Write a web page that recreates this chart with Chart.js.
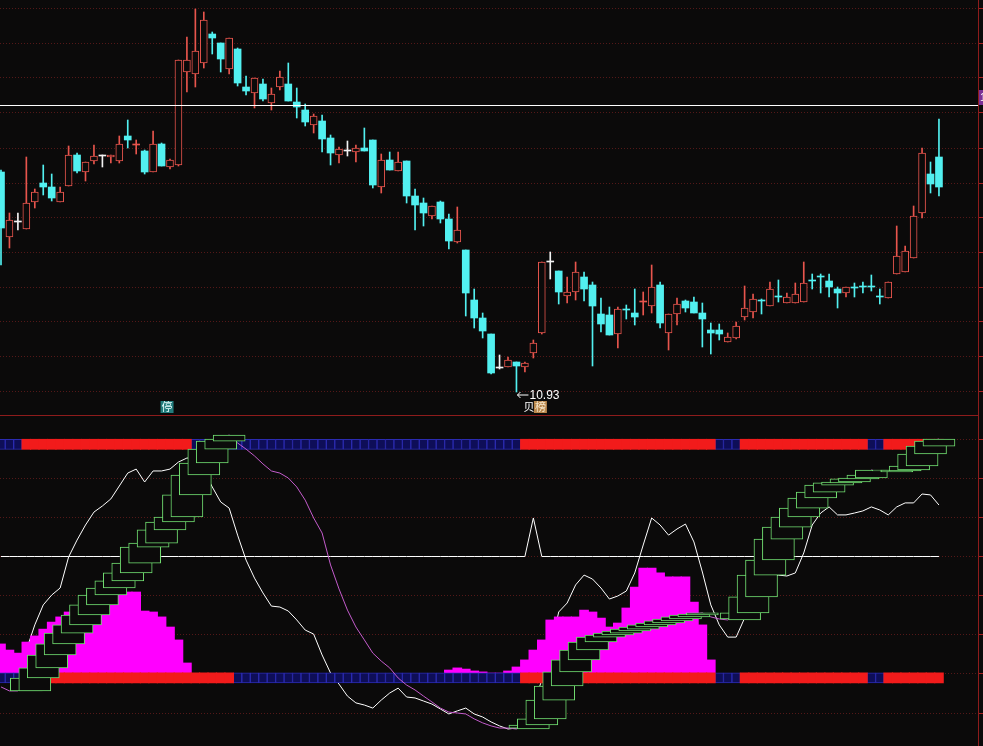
<!DOCTYPE html>
<html>
<head>
<meta charset="utf-8">
<script src="https://cdn.jsdelivr.net/npm/chart.js@4.4.1/dist/chart.umd.min.js"></script>
<style>
    html, body { margin: 0; padding: 0; background: #0b0a0a; }
    #wrap { position: relative; width: 983px; height: 746px; overflow: hidden; background: #0b0a0a; }
    #priceChart { position: absolute; left: 0; top: 0; }
    #indChart { position: absolute; left: 0; top: 414px; }
</style>
</head>
<body>
<div id="wrap">
    <canvas id="priceChart" width="983" height="414"></canvas>
    <canvas id="indChart" width="983" height="332"></canvas>
</div>
<script>
// ===============================
// DATA - daily candles
// ===============================
const candleOpen = [
    13.13, 12.48, 12.63, 12.56, 12.83, 13.02, 12.98, 12.83, 12.99, 13.30,
    13.13, 13.24, 13.29, 13.28, 13.24, 13.49, 13.40, 13.34, 13.13, 13.41,
    13.18, 13.20, 14.13, 14.11, 14.22, 14.51, 14.42, 14.16, 14.36, 13.98,
    13.92, 14.01, 13.82, 13.98, 14.01, 13.83, 13.75, 13.60, 13.64, 13.47,
    13.30, 13.34, 13.33, 13.37, 13.45, 12.98, 13.25, 13.14, 13.24, 12.89,
    12.82, 12.69, 12.83, 12.66, 12.43, 12.35, 11.85, 11.67, 11.51, 11.17,
    11.18, 11.23, 11.18, 11.32, 11.52, 12.23, 12.14, 11.89, 11.93, 12.08,
    12.00, 11.71, 11.70, 11.51, 11.76, 11.72, 11.83, 11.79, 12.00, 11.52,
    11.71, 11.84, 11.83, 11.72, 11.55, 11.55, 11.43, 11.47, 11.68, 11.73,
    11.85, 11.79, 11.89, 11.82, 11.82, 11.83, 12.05, 12.09, 12.04, 11.96,
    11.92, 11.98, 11.99, 11.99, 11.89, 11.87, 12.11, 12.13, 12.27, 12.72,
    13.11, 13.28
];
const candleHigh = [
    13.15, 12.72, 12.72, 13.28, 12.96, 13.20, 13.11, 12.98, 13.39, 13.32,
    13.23, 13.40, 13.30, 13.30, 13.49, 13.65, 13.45, 13.35, 13.54, 13.42,
    13.26, 14.25, 14.48, 14.76, 14.73, 14.53, 14.42, 14.47, 14.37, 14.09,
    14.07, 14.06, 13.97, 14.14, 14.22, 13.97, 13.81, 13.71, 13.70, 13.50,
    13.38, 13.44, 13.40, 13.57, 13.45, 13.31, 13.33, 13.33, 13.24, 12.96,
    12.87, 12.79, 12.84, 12.71, 12.78, 12.35, 11.96, 11.72, 11.51, 11.30,
    11.28, 11.23, 11.23, 11.45, 12.23, 12.33, 12.14, 12.08, 12.23, 12.13,
    12.03, 11.87, 11.78, 11.78, 11.80, 11.96, 11.93, 12.20, 12.03, 11.71,
    11.87, 11.85, 11.88, 11.82, 11.62, 11.61, 11.52, 11.63, 11.99, 11.91,
    11.86, 12.03, 12.05, 11.92, 12.02, 12.23, 12.11, 12.11, 12.11, 11.98,
    11.98, 12.02, 12.03, 12.10, 11.96, 12.03, 12.59, 12.39, 12.79, 13.37,
    13.23, 13.66
];
const candleLow = [
    12.20, 12.37, 12.55, 12.56, 12.77, 12.90, 12.84, 12.83, 12.99, 13.12,
    13.04, 13.21, 13.18, 13.22, 13.22, 13.37, 13.31, 13.11, 13.13, 13.19,
    13.16, 13.19, 13.93, 13.98, 14.17, 14.31, 14.13, 14.11, 13.99, 13.90,
    13.77, 13.84, 13.75, 13.95, 13.84, 13.67, 13.59, 13.52, 13.33, 13.20,
    13.22, 13.29, 13.23, 13.34, 12.97, 12.92, 13.15, 13.14, 12.82, 12.55,
    12.59, 12.66, 12.62, 12.36, 12.42, 11.69, 11.57, 11.47, 11.11, 11.16,
    11.18, 10.93, 11.13, 11.27, 11.51, 12.06, 11.81, 11.82, 11.85, 11.84,
    11.19, 11.53, 11.50, 11.37, 11.66, 11.60, 11.70, 11.72, 11.57, 11.35,
    11.60, 11.73, 11.72, 11.38, 11.31, 11.45, 11.43, 11.46, 11.65, 11.67,
    11.71, 11.79, 11.83, 11.82, 11.82, 11.83, 11.96, 11.92, 11.88, 11.77,
    11.88, 11.88, 11.92, 11.94, 11.81, 11.87, 12.11, 12.13, 12.27, 12.67,
    12.92, 12.89
];
const candleClose = [
    12.57, 12.65, 12.63, 12.82, 12.93, 12.98, 12.87, 12.93, 13.30, 13.14,
    13.23, 13.29, 13.29, 13.30, 13.41, 13.45, 13.41, 13.13, 13.41, 13.19,
    13.25, 14.25, 14.25, 14.34, 14.65, 14.47, 14.26, 14.47, 14.02, 13.94,
    14.07, 13.86, 13.91, 14.08, 13.84, 13.78, 13.63, 13.69, 13.46, 13.32,
    13.36, 13.34, 13.37, 13.34, 13.00, 13.25, 13.15, 13.23, 12.89, 12.80,
    12.72, 12.79, 12.66, 12.44, 12.55, 11.92, 11.67, 11.54, 11.12, 11.17,
    11.25, 11.19, 11.22, 11.42, 12.23, 12.23, 11.93, 11.93, 12.13, 11.96,
    11.79, 11.61, 11.50, 11.76, 11.75, 11.68, 11.84, 11.98, 11.62, 11.71,
    11.81, 11.77, 11.72, 11.66, 11.52, 11.51, 11.48, 11.59, 11.77, 11.86,
    11.84, 11.96, 11.88, 11.88, 11.91, 12.02, 12.04, 12.08, 11.98, 11.92,
    11.98, 11.97, 11.98, 11.98, 11.88, 12.03, 12.29, 12.34, 12.69, 13.32,
    13.01, 12.98
];

const priceGrid = [14.76, 14.41, 14.07, 13.72, 13.37, 13.02, 12.68, 12.33, 11.98, 11.63, 11.29, 10.94];
const refLevel = 13.80;
const haltDay = 19;
const listDay = 62;

// ===============================
// DATA - indicator pane
// ===============================
const oscWhite = [
    -0.4, 2.6, 6.0, 10.2, 20.9, 29.4, 33.6, 36.6, 49.8, 57.0,
    63.4, 68.9, 71.5, 74.5, 80.0, 85.5, 87.2, 81.7, 86.4, 86.4,
    87.2, 90.2, 91.9, 91.9, 86.8, 79.6, 73.2, 70.6, 59.1, 48.5,
    40.8, 34.5, 28.9, 28.5, 26.8, 23.0, 18.7, 17.0, 8.1, 0.4,
    -4.3, -9.4, -12.3, -13.2, -14.5, -11.1, -8.1, -6.0, -9.8, -10.2,
    -11.5, -12.8, -14.9, -17.0, -15.7, -14.5, -17.0, -18.3, -20.4, -22.1,
    -23.4, -23.0, -20.4, -13.2, -2.6, 10.2, 26.4, 30.2, 37.9, 42.1,
    40.4, 36.6, 31.9, 33.2, 35.3, 43.0, 54.9, 66.4, 63.4, 59.1,
    61.7, 63.8, 56.2, 43.4, 29.4, 20.9, 15.7, 15.7, 23.8, 32.3,
    37.9, 40.8, 42.1, 41.7, 43.0, 51.5, 63.4, 68.5, 71.1, 67.7,
    67.7, 68.5, 69.4, 71.1, 69.8, 67.7, 71.1, 72.8, 72.8, 76.6,
    76.2, 71.9
];
const oscLevel = [
    50, 50, 50, 50, 50, 50, 50, 50, 50, 50,
    50, 50, 50, 50, 50, 50, 50, 50, 50, 50,
    50, 50, 50, 50, 50, 50, 50, 50, 50, 50,
    50, 50, 50, 50, 50, 50, 50, 50, 50, 50,
    50, 50, 50, 50, 50, 50, 50, 50, 50, 50,
    50, 50, 50, 50, 50, 50, 50, 50, 50, 50,
    50, 50, 50, 66.4, 50, 50, 50, 50, 50, 50,
    50, 50, 50, 50, 50, 50, 50, 50, 50, 50,
    50, 50, 50, 50, 50, 50, 50, 50, 50, 50,
    50, 50, 50, 50, 50, 50, 50, 50, 50, 50,
    50, 50, 50, 50, 50, 50, 50, 50, 50, 50,
    50, 50
];
const oscPurple = [
    -5.5, -7.2, -7.2, -1.7, 2.6, 8.1, 12.8, 17.4, 20.9, 25.1,
    29.4, 33.6, 36.6, 39.6, 43.0, 47.2, 54.0, 55.7, 61.3, 64.7,
    66.8, 76.2, 84.7, 89.8, 95.7, 99.1, 100.0, 101.7, 98.3, 95.7,
    92.8, 89.4, 86.4, 85.5, 83.4, 79.6, 74.0, 66.4, 60.0, 46.4,
    36.2, 27.2, 20.0, 14.5, 8.9, 5.5, 2.6, -1.7, -4.7, -6.8,
    -9.4, -11.9, -14.5, -16.2, -16.6, -17.0, -19.1, -20.8, -22.1, -23.0,
    -23.0, -23.4, -21.7, -19.1, -11.1, -5.1, 0.9, 6.0, 10.2, 13.6,
    15.7, 16.6, 17.4, 18.3, 19.1, 20.0, 20.9, 21.7, 22.6, 23.4,
    24.3, 25.1, 25.5, 26.0, 24.3, 23.4, 23.0, 26.0, 32.8, 42.1,
    48.5, 57.4, 62.5, 66.8, 70.6, 74.9, 77.4, 80.4, 81.3, 81.7,
    83.0, 83.4, 84.7, 86.8, 86.0, 86.4, 86.8, 88.5, 93.6, 97.0,
    99.1, 100.0
];
const oscBars = [
    12.8, 10.2, 8.9, 13.6, 16.2, 19.1, 22.1, 24.3, 26.4, 28.5,
    29.8, 31.1, 31.9, 33.2, 34.0, 34.9, 34.9, 26.8, 26.4, 24.3,
    20.0, 14.5, 4.7, 0, 0, 0, 0, 0, 0, 0,
    0, 0, 0, 0, 0, 0, 0, 0, 0, 0,
    0, 0, 0, 0, 0, 0, 0, 0, 0, 0,
    0, 0, 0, 1.7, 2.6, 2.1, 1.3, 0.9, 0.4, 0.4,
    1.3, 3.0, 6.0, 10.2, 14.5, 23.0, 24.3, 24.3, 24.3, 27.2,
    26.4, 23.8, 20.0, 21.7, 28.1, 37.0, 45.1, 45.1, 43.0, 41.3,
    41.3, 41.3, 30.6, 20.9, 6.0, 0, 0, 0, 0, 0,
    0, 0, 0, 0, 0, 0, 0, 0, 0, 0,
    0, 0, 0, 0, 0, 0, 0, 0, 0, 0,
    0, 0
];
const stateTop = [
    0, 0, 0, 1, 1, 1, 1, 1, 1, 1,
    1, 1, 1, 1, 1, 1, 1, 1, 1, 1,
    1, 1, 1, 0, 0, 0, 0, 0, 0, 0,
    0, 0, 0, 0, 0, 0, 0, 0, 0, 0,
    0, 0, 0, 0, 0, 0, 0, 0, 0, 0,
    0, 0, 0, 0, 0, 0, 0, 0, 0, 0,
    0, 0, 1, 1, 1, 1, 1, 1, 1, 1,
    1, 1, 1, 1, 1, 1, 1, 1, 1, 1,
    1, 1, 1, 1, 1, 0, 0, 0, 1, 1,
    1, 1, 1, 1, 1, 1, 1, 1, 1, 1,
    1, 1, 1, 0, 0, 1, 1, 1, 1, 1,
    1, 1
];
const stateBottom = [
    0, 0, 0, 0, 0, 0, 1, 1, 1, 1,
    1, 1, 1, 1, 1, 1, 1, 1, 1, 1,
    1, 1, 1, 1, 1, 1, 1, 1, 0, 0,
    0, 0, 0, 0, 0, 0, 0, 0, 0, 0,
    0, 0, 0, 0, 0, 0, 0, 0, 0, 0,
    0, 0, 0, 0, 0, 0, 0, 0, 0, 0,
    0, 0, 1, 1, 1, 1, 1, 1, 1, 1,
    1, 1, 1, 1, 1, 1, 1, 1, 1, 1,
    1, 1, 1, 1, 1, 0, 0, 0, 1, 1,
    1, 1, 1, 1, 1, 1, 1, 1, 1, 1,
    1, 1, 1, 0, 0, 1, 1, 1, 1, 1,
    1, 1
];
const oscGrid = [-16.67, 0, 16.67, 33.33, 50, 66.67, 83.33, 100];

// ===============================
// STYLE
// ===============================
const BG = "#0b0a0a";
const UP_COLOR = "#e8554d";
const DOWN_COLOR = "#52f0f0";
const FLAT_COLOR = "#f2f2f2";
const AXIS_RED = "#8e1c1c";
const GRID_RED = "#541818";
const STRIP_RED = "#f21b1b";
const STRIP_BLUE = "#0e0e58";
const STRIP_BLUE_EDGE = "#2b2bb0";
const BOX_GREEN = "#72e072";
const AREA_PINK = "#ff00ff";
const LINE_PURPLE = "#c45ccc";

const X_MIN = -0.118;
const X_MAX = 115.62;
const PRICE_MIN = 10.71;
const PRICE_MAX = 14.85;
const OSC_MIN = -30.64;
const OSC_MAX = 110.64;

const days = candleOpen.map((_, i) => i);

// ===============================
// HELPERS
// ===============================
function candleColor(i) {
    if (candleClose[i] > candleOpen[i]) return UP_COLOR;
    if (candleClose[i] < candleOpen[i]) return DOWN_COLOR;
    return FLAT_COLOR;
}

function isHollow(i) {
    return candleClose[i] - candleOpen[i] > 0.015;
}

function xScaleOptions() {
    return { type: "linear", min: X_MIN, max: X_MAX, offset: false, display: false };
}

function yScaleOptions(min, max, gridValues) {
    return {
        position: "right",
        min: min,
        max: max,
        afterBuildTicks: (scale) => { scale.ticks = gridValues.map(v => ({ value: v })); },
        ticks: { display: false },
        grid: { color: GRID_RED, lineWidth: 1, drawTicks: true, tickLength: 5, tickColor: "#a82020", tickBorderDash: [] },
        border: { display: true, color: AXIS_RED, width: 1, dash: [1, 2] }
    };
}

const baseOptions = {
    responsive: false,
    animation: false,
    events: [],
    layout: { padding: 0 },
    plugins: { legend: { display: false }, tooltip: { enabled: false } }
};

// ===============================
// PRICE PANE MARKS
// ===============================
const priceMarks = {
    id: "priceMarks",
    afterDatasetsDraw(chart) {
        const { ctx, chartArea, scales } = chart;
        const x = scales.x, y = scales.y;
        ctx.save();

        // reference level
        const ry = Math.round(y.getPixelForValue(refLevel)) + 0.5;
        ctx.strokeStyle = "#ffffff";
        ctx.lineWidth = 1;
        ctx.beginPath();
        ctx.moveTo(0, ry);
        ctx.lineTo(chartArea.right, ry);
        ctx.stroke();

        ctx.fillStyle = "#7b2f95";
        ctx.fillRect(chartArea.right + 1, ry - 15.5, 40, 15);
        ctx.fillStyle = "#ffffff";
        ctx.font = "11px 'Liberation Sans', Arial, sans-serif";
        ctx.textBaseline = "middle";
        ctx.textAlign = "left";
        ctx.fillText(refLevel.toFixed(2), chartArea.right + 2, ry - 8);

        // lowest low
        let lowIdx = 0;
        candleLow.forEach((v, i) => { if (v < candleLow[lowIdx]) lowIdx = i; });
        const lx = x.getPixelForValue(lowIdx);
        const ly = y.getPixelForValue(candleLow[lowIdx]) + 3;
        ctx.strokeStyle = "#ffffff";
        ctx.beginPath();
        ctx.moveTo(lx + 1, ly);
        ctx.lineTo(lx + 12, ly);
        ctx.moveTo(lx + 1, ly);
        ctx.lineTo(lx + 4, ly - 3);
        ctx.moveTo(lx + 1, ly);
        ctx.lineTo(lx + 4, ly + 3);
        ctx.stroke();
        ctx.fillStyle = "#ffffff";
        ctx.font = "12px 'Liberation Sans', Arial, sans-serif";
        ctx.fillText(candleLow[lowIdx].toFixed(2), lx + 13, ly + 1);

        // event tags at the bottom of the pane
        const tagTop = chartArea.bottom - 13;
        ctx.font = "11px 'Noto Sans CJK SC', sans-serif";
        ctx.textAlign = "center";

        const hx = x.getPixelForValue(haltDay);
        ctx.fillStyle = "#227c7c";
        ctx.fillRect(hx - 1, tagTop, 13, 12);
        ctx.fillStyle = "#e8ffff";
        ctx.fillText("停", hx + 5.5, tagTop + 6);

        const bx = x.getPixelForValue(listDay);
        ctx.fillStyle = "#ffffff";
        ctx.fillText("贝", bx + 4, tagTop + 6);
        ctx.fillStyle = "#b9874c";
        ctx.fillRect(bx + 9, tagTop, 13, 12);
        ctx.fillStyle = "#f6e6cc";
        ctx.fillText("榜", bx + 15.5, tagTop + 6);

        ctx.restore();
    }
};

// ===============================
// PRICE CHART
// ===============================
new Chart(document.getElementById("priceChart"), {
    type: "bar",
    data: {
        datasets: [
            {
                label: "body",
                data: days.map(i => ({ x: i, y: [candleOpen[i], candleClose[i]] })),
                backgroundColor: days.map(i => isHollow(i) ? BG : candleColor(i)),
                borderColor: days.map(candleColor),
                borderWidth: days.map(i => isHollow(i) ? 1 : 0),
                borderSkipped: false,
                barThickness: 7,
                minBarLength: 1,
                grouped: false,
                order: 0
            },
            {
                label: "wick",
                data: days.map(i => ({ x: i, y: [candleLow[i], candleHigh[i]] })),
                backgroundColor: days.map(candleColor),
                borderWidth: 0,
                barThickness: 1,
                grouped: false,
                order: 1
            }
        ]
    },
    options: {
        ...baseOptions,
        scales: {
            x: xScaleOptions(),
            y: yScaleOptions(PRICE_MIN, PRICE_MAX, priceGrid)
        }
    },
    plugins: [priceMarks]
});

// ===============================
// INDICATOR CHART
// ===============================
const paneSeparator = {
    id: "paneSeparator",
    afterDraw(chart) {
        const { ctx, chartArea } = chart;
        ctx.save();
        ctx.fillStyle = AXIS_RED;
        ctx.fillRect(0, 1, chartArea.right, 1);
        ctx.restore();
    }
};

// a box for every rising day, from the value two days back to today's value
const risingBoxes = days
    .filter(i => i > 1 && oscPurple[i] > oscPurple[i - 1])
    .map(i => ({ x: i, y: [oscPurple[i - 2], oscPurple[i]] }));

function stripCells(states, wanted, low, high) {
    return days.filter(i => states[i] === wanted).map(i => ({ x: i, y: [low, high] }));
}

new Chart(document.getElementById("indChart"), {
    type: "bar",
    data: {
        datasets: [
            {
                label: "boxes",
                data: risingBoxes,
                backgroundColor: BG,
                borderColor: BOX_GREEN,
                borderWidth: 1,
                borderSkipped: false,
                barThickness: 32,
                grouped: false,
                order: 0
            },
            {
                type: "line",
                label: "purple",
                data: days.map(i => ({ x: i, y: oscPurple[i] })),
                borderColor: LINE_PURPLE,
                borderWidth: 1,
                pointRadius: 0,
                tension: 0,
                order: 1
            },
            {
                label: "top red",
                data: stripCells(stateTop, 1, 95.6, 99.9),
                backgroundColor: STRIP_RED,
                borderWidth: 0,
                barThickness: 9,
                grouped: false,
                order: 2
            },
            {
                label: "top blue",
                data: stripCells(stateTop, 0, 95.6, 99.9),
                backgroundColor: STRIP_BLUE,
                borderColor: STRIP_BLUE_EDGE,
                borderWidth: 1,
                borderSkipped: false,
                barPercentage: 1,
                categoryPercentage: 1,
                grouped: false,
                order: 2
            },
            {
                label: "bottom red",
                data: stripCells(stateBottom, 1, -3.8, 0.5),
                backgroundColor: STRIP_RED,
                borderWidth: 0,
                barThickness: 9,
                grouped: false,
                order: 2
            },
            {
                label: "bottom blue",
                data: stripCells(stateBottom, 0, -3.8, 0.5),
                backgroundColor: STRIP_BLUE,
                borderColor: STRIP_BLUE_EDGE,
                borderWidth: 1,
                borderSkipped: false,
                barPercentage: 1,
                categoryPercentage: 1,
                grouped: false,
                order: 2
            },
            {
                label: "area",
                data: days.filter(i => oscBars[i] > 0).map(i => ({ x: i, y: [0, oscBars[i]] })),
                backgroundColor: AREA_PINK,
                borderWidth: 0,
                barThickness: 9,
                grouped: false,
                order: 3
            },
            {
                type: "line",
                label: "level",
                data: days.map(i => ({ x: i, y: oscLevel[i] })),
                borderColor: "#ffffff",
                borderWidth: 1,
                pointRadius: 0,
                tension: 0,
                order: 4
            },
            {
                type: "line",
                label: "white",
                data: days.map(i => ({ x: i, y: oscWhite[i] })),
                borderColor: "#ffffff",
                borderWidth: 1,
                pointRadius: 0,
                tension: 0,
                order: 5
            }
        ]
    },
    options: {
        ...baseOptions,
        scales: {
            x: xScaleOptions(),
            y: yScaleOptions(OSC_MIN, OSC_MAX, oscGrid)
        }
    },
    plugins: [paneSeparator]
});
</script>
</body>
</html>
